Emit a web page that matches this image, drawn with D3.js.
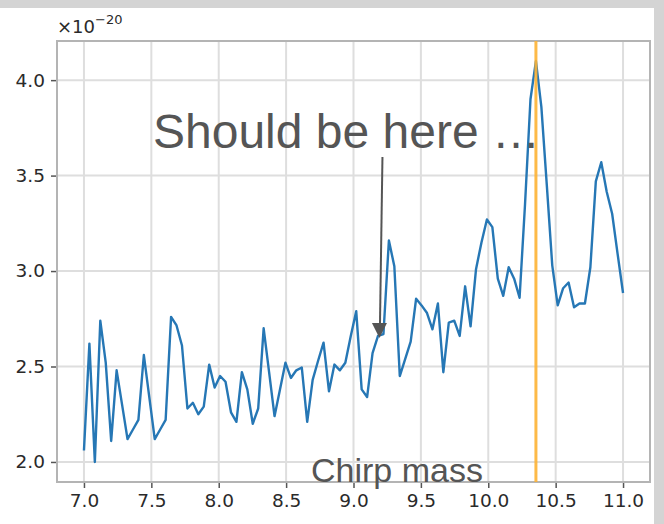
<!DOCTYPE html>
<html>
<head>
<meta charset="utf-8">
<script src="https://cdn.jsdelivr.net/npm/d3@7/dist/d3.min.js"></script>
<style>
  html, body { margin: 0; padding: 0; background: #d6d6d6; }
  svg { display: block; }
</style>
</head>
<body>
<svg id="chart" width="664" height="524"></svg>
<script>
// Chirp-mass grid: 100 evenly spaced samples between these bounds
const massStart = 7.0;
const massEnd = 11.0;
const sampleCount = 100;

// Detection statistic per sample, in units of 1e-20
const statistic = [
  2.06, 2.62, 2.00, 2.74, 2.52, 2.11, 2.48, 2.30, 2.12, 2.17,
  2.22, 2.56, 2.34, 2.12, 2.17, 2.22, 2.76, 2.715, 2.61, 2.28,
  2.31, 2.25, 2.29, 2.51, 2.39, 2.45, 2.42, 2.26, 2.21, 2.47,
  2.38, 2.20, 2.28, 2.70, 2.47, 2.24, 2.38, 2.52, 2.44, 2.48,
  2.495, 2.21, 2.43, 2.53, 2.625, 2.37, 2.51, 2.48, 2.52, 2.66,
  2.79, 2.38, 2.34, 2.57, 2.66, 2.67, 3.16, 3.025, 2.45, 2.54,
  2.63, 2.855, 2.82, 2.78, 2.695, 2.83, 2.47, 2.73, 2.74, 2.66,
  2.92, 2.71, 3.01, 3.15, 3.27, 3.23, 2.96, 2.87, 3.02, 2.96,
  2.86, 3.35, 3.90, 4.10, 3.86, 3.45, 3.03, 2.82, 2.91, 2.94,
  2.81, 2.83, 2.83, 3.02, 3.47, 3.57, 3.415, 3.30, 3.09, 2.885
];

const xTicks = [7.0, 7.5, 8.0, 8.5, 9.0, 9.5, 10.0, 10.5, 11.0];
const yTicks = [2.0, 2.5, 3.0, 3.5, 4.0];
const xDomain = [6.8, 11.2];
const yDomain = [1.895, 4.205];

const annotationText = "Should be here …";
const xLabel = "Chirp mass";
const expectedMass = 9.2;          // where the arrow points
const expectedValue = 2.67;

const chirpMass = d3.range(sampleCount).map(i => massStart + (massEnd - massStart) * i / (sampleCount - 1));
const points = chirpMass.map((m, i) => ({ m, v: statistic[i] }));
const peakMass = chirpMass[d3.maxIndex(statistic)];

const svg = d3.select("#chart");
const W = 664, H = 524;

// white panel with a grey rim at the top and right
svg.append("rect").attr("x", 0).attr("y", 0).attr("width", W).attr("height", H).attr("fill", "#d4d4d4");
svg.append("rect").attr("x", 0).attr("y", 8).attr("width", 654).attr("height", H - 8).attr("fill", "#ffffff");

const plot = { left: 57, right: 650, top: 41, bottom: 482 };
const x = d3.scaleLinear().domain(xDomain).range([plot.left, plot.right]);
const y = d3.scaleLinear().domain(yDomain).range([plot.bottom, plot.top]);

// grid
const grid = svg.append("g");
grid.selectAll(".gx").data(xTicks).join("line")
  .attr("x1", d => x(d)).attr("x2", d => x(d))
  .attr("y1", plot.top).attr("y2", plot.bottom)
  .attr("stroke", "#dedede").attr("stroke-width", 2);
grid.selectAll(".gy").data(yTicks).join("line")
  .attr("x1", plot.left).attr("x2", plot.right)
  .attr("y1", d => y(d)).attr("y2", d => y(d))
  .attr("stroke", "#dedede").attr("stroke-width", 2);

// axes
const fmt = d3.format(".1f");
const xAxis = svg.append("g").attr("transform", `translate(0,${plot.bottom})`)
  .call(d3.axisBottom(x).tickValues(xTicks).tickFormat(fmt).tickSize(6).tickPadding(6));
const yAxis = svg.append("g").attr("transform", `translate(${plot.left},0)`)
  .call(d3.axisLeft(y).tickValues(yTicks).tickFormat(fmt).tickSize(6).tickPadding(6));
[xAxis, yAxis].forEach(a => {
  a.select(".domain").remove();
  a.selectAll(".tick line").attr("stroke", "#555").attr("stroke-width", 1.5);
  a.selectAll(".tick text")
    .attr("fill", "#2a2a2a")
    .style("font-family", "DejaVu Sans, sans-serif")
    .style("font-size", "18.5px");
});

// frame
svg.append("rect")
  .attr("x", plot.left).attr("y", plot.top)
  .attr("width", plot.right - plot.left).attr("height", plot.bottom - plot.top)
  .attr("fill", "none").attr("stroke", "#b4b4b4").attr("stroke-width", 2);

// offset label
const off = svg.append("text")
  .attr("x", plot.left).attr("y", 33)
  .attr("fill", "#2a2a2a")
  .style("font-family", "DejaVu Sans, sans-serif")
  .style("font-size", "18px");
off.append("tspan").text("×10");
off.append("tspan").attr("dy", -9).style("font-size", "13px").text("−20");

// series
const line = d3.line().x(d => x(d.m)).y(d => y(d.v));
svg.append("path").datum(points)
  .attr("d", line)
  .attr("fill", "none")
  .attr("stroke", "#2677b5")
  .attr("stroke-width", 2.4)
  .attr("stroke-linejoin", "round");

// peak marker, drawn over the series
svg.append("line")
  .attr("x1", x(peakMass)).attr("x2", x(peakMass))
  .attr("y1", plot.top).attr("y2", plot.bottom)
  .attr("stroke", "#fdb234").attr("stroke-opacity", 0.9).attr("stroke-width", 3);

// annotation
svg.append("text")
  .attr("x", 153).attr("y", 148)
  .attr("fill", "#555")
  .style("font-family", "Liberation Sans, Arial, sans-serif")
  .style("font-size", "48px")
  .text(annotationText);

const tipX = x(expectedMass) - 1, tipY = y(expectedValue) + 4;
svg.append("line")
  .attr("x1", tipX + 3).attr("y1", 157)
  .attr("x2", tipX + 0.5).attr("y2", tipY - 12)
  .attr("stroke", "#555").attr("stroke-width", 2);
svg.append("path")
  .attr("d", `M${tipX - 7.5},${tipY - 15} L${tipX + 7.5},${tipY - 15} L${tipX},${tipY} Z`)
  .attr("fill", "#555");

svg.append("text")
  .attr("x", 311).attr("y", 482)
  .attr("fill", "#555")
  .style("font-family", "Liberation Sans, Arial, sans-serif")
  .style("font-size", "34px")
  .text(xLabel);
</script>
</body>
</html>
